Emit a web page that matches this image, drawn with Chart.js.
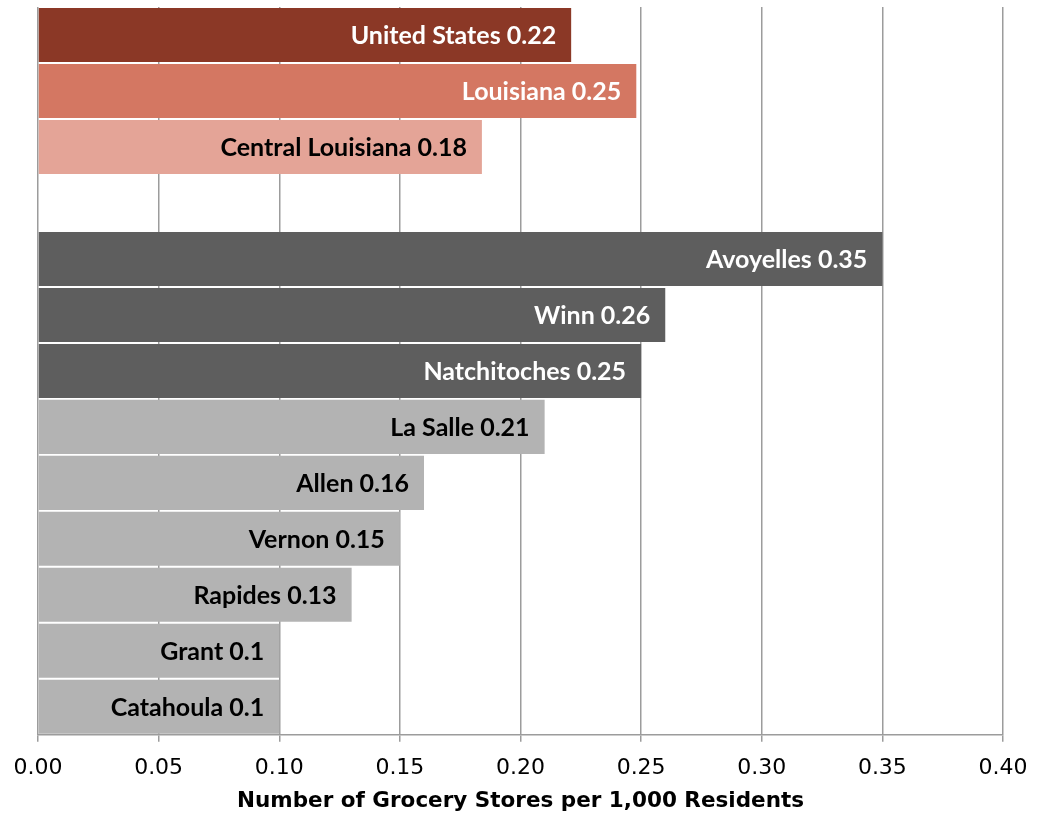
<!DOCTYPE html>
<html lang="en">
<head>
  <meta charset="UTF-8" />
  <title>Grocery Stores per 1,000 Residents</title>
  <style>
    body {
      margin: 0;
      padding: 0;
      background: #ffffff;
    }

    .chart-box {
      width: 1045px;
      height: 817px;
    }
  </style>
</head>
<body>
  <div class="chart-box">
    <canvas id="storesChart"></canvas>
  </div>

  <script src="https://cdn.jsdelivr.net/npm/chart.js"></script>
  <script>
    // data; '' is the empty gap row
    const categories = ['United States', 'Louisiana', 'Central Louisiana', '',
      'Avoyelles', 'Winn', 'Natchitoches', 'La Salle', 'Allen', 'Vernon',
      'Rapides', 'Grant', 'Catahoula'];
    const values = [0.221, 0.248, 0.184, null, 0.35, 0.26, 0.25, 0.21, 0.16, 0.15, 0.13, 0.1, 0.1];
    const shownValues = ['0.22', '0.25', '0.18', '', '0.35', '0.26', '0.25', '0.21', '0.16', '0.15', '0.13', '0.1', '0.1'];
    const xTicks = [0, 0.05, 0.1, 0.15, 0.2, 0.25, 0.3, 0.35, 0.4];

    const barColors = ['#8b3826', '#d47762', '#e4a497', '#ffffff',
      '#5e5e5e', '#5e5e5e', '#5e5e5e',
      '#b3b3b3', '#b3b3b3', '#b3b3b3', '#b3b3b3', '#b3b3b3', '#b3b3b3'];
    const labelColors = ['#ffffff', '#ffffff', '#000000', '#000000',
      '#ffffff', '#ffffff', '#ffffff',
      '#000000', '#000000', '#000000', '#000000', '#000000', '#000000'];

    const gridColor = '#9c9c9c';

    // writes "Name value" inside the end of each bar
    const barLabels = {
      id: 'barLabels',
      afterDatasetsDraw(chart) {
        const ctx = chart.ctx;
        const meta = chart.getDatasetMeta(0);
        ctx.save();
        ctx.font = 'bold 25px Lato';
        ctx.textAlign = 'right';
        ctx.textBaseline = 'middle';
        meta.data.forEach((bar, i) => {
          if (values[i] === null) return;
          ctx.fillStyle = labelColors[i];
          ctx.fillText(categories[i] + ' ' + shownValues[i], bar.x - 15, bar.y + 1);
        });
        ctx.restore();
      }
    };

    new Chart(document.getElementById('storesChart'), {
      type: 'bar',
      data: {
        labels: categories,
        datasets: [{
          data: values,
          backgroundColor: barColors,
          barPercentage: 0.965,
          categoryPercentage: 1
        }]
      },
      plugins: [barLabels],
      options: {
        indexAxis: 'y',
        responsive: true,
        maintainAspectRatio: false,
        animation: false,
        layout: {
          padding: { top: 7, left: 38, right: 42, bottom: 0 }
        },
        plugins: {
          legend: { display: false },
          tooltip: { enabled: false }
        },
        scales: {
          y: {
            display: false
          },
          x: {
            min: 0,
            max: 0.4,
            afterBuildTicks(scale) {
              scale.ticks = xTicks.map(v => ({ value: v }));
            },
            grid: {
              color: gridColor,
              lineWidth: 1.5,
              tickLength: 7
            },
            border: {
              color: gridColor,
              width: 1.5
            },
            ticks: {
              color: '#000000',
              padding: 13,
              font: { family: 'DejaVu Sans', size: 22 },
              callback: v => Number(v).toFixed(2)
            },
            title: {
              display: true,
              text: 'Number of Grocery Stores per 1,000 Residents',
              color: '#000000',
              font: { family: 'DejaVu Sans', size: 21.5, weight: 'bold' },
              padding: { top: -6, bottom: 3 }
            }
          }
        }
      }
    });
  </script>
</body>
</html>
